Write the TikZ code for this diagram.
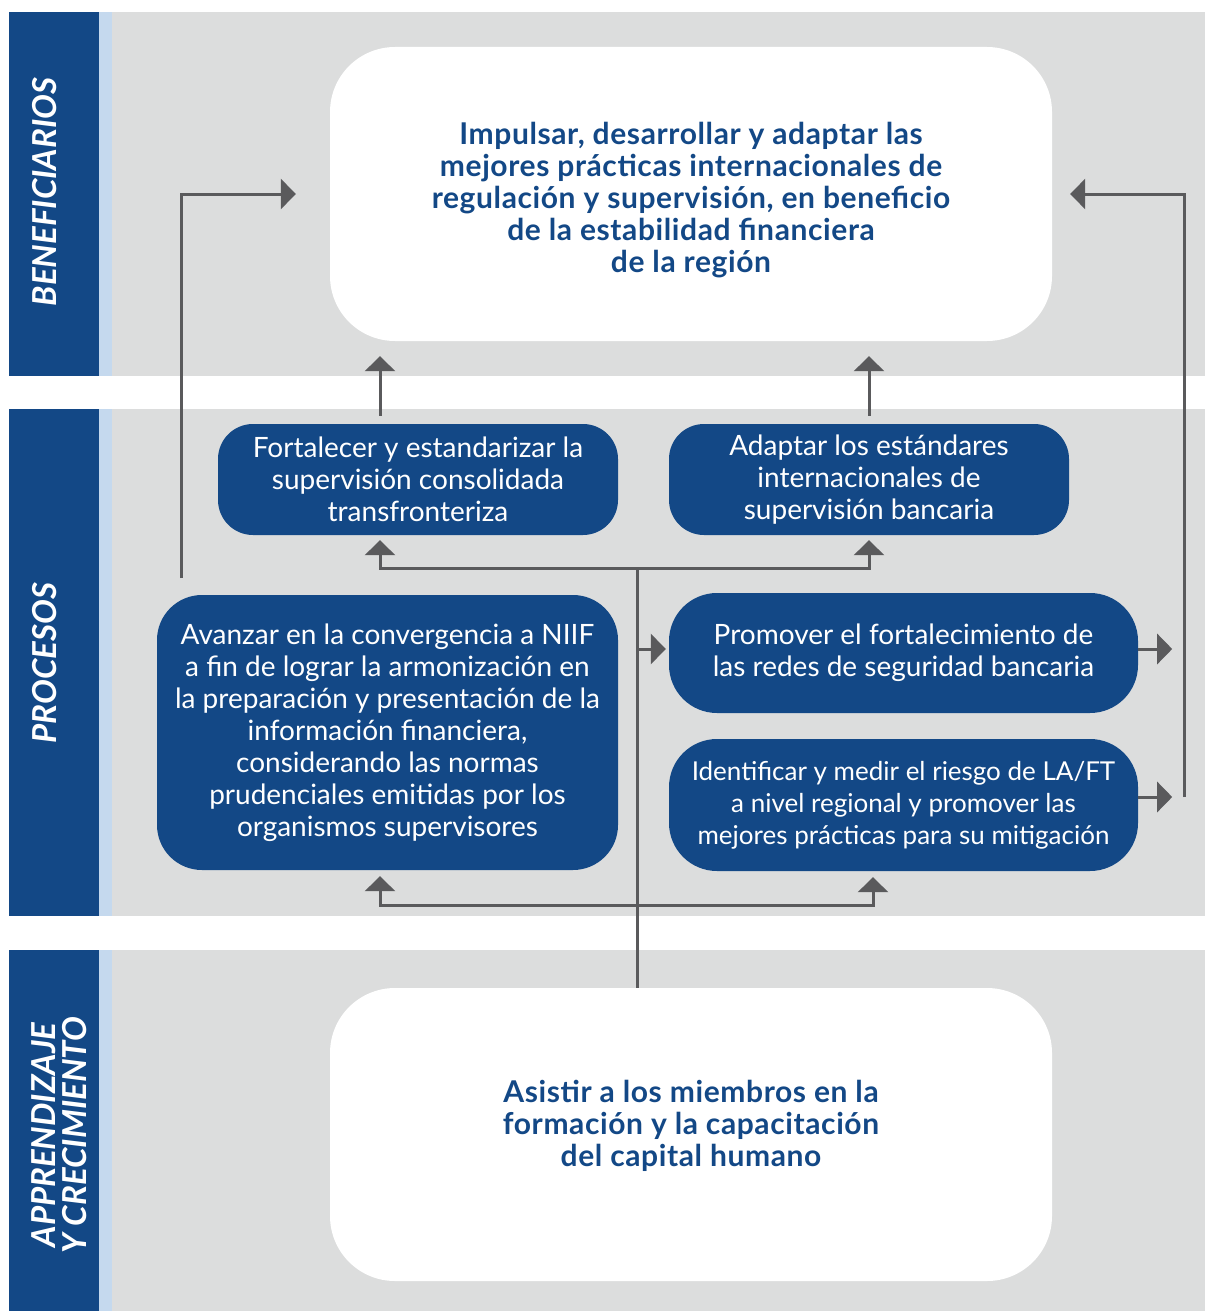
\documentclass[tikz,border=0pt]{standalone}
\usepackage{fontspec}
\setmainfont{Lato}
\usepackage{tikz}
\usetikzlibrary{arrows.meta}
\definecolor{azulosc}{HTML}{134886}
\definecolor{azulcla}{HTML}{C5D9EE}
\definecolor{grisfondo}{HTML}{DCDDDD}
\definecolor{grislinea}{HTML}{5A5A5C}

\begin{document}
\begin{tikzpicture}[x=1pt,y=-1pt,
	caja/.style={fill=azulosc,rounded corners=35pt,text=white,align=center,inner sep=0pt,font=\fontsize{28}{32}\selectfont},
	meta/.style={fill=white,rounded corners=65pt,text=azulosc,align=center,inner sep=0pt,font=\fontsize{30}{32}\selectfont\bfseries\addfontfeature{LetterSpace=2}},
	etiqueta/.style={rotate=90,text=white,align=center,font=\fontsize{33}{31}\selectfont\bfseries\itshape},
	linea/.style={draw=grislinea,line width=3pt},
	flecha/.style={linea,-{Triangle[width=30pt,length=15pt]}}]
	\useasboundingbox (0,0) rectangle (1205,1311);
	\fill[azulosc] (9,12) rectangle (99,376);
	\fill[azulcla] (99,12) rectangle (112,376);
	\fill[grisfondo] (112,12) rectangle (1205,376);
	\fill[azulosc] (9,409) rectangle (99,916);
	\fill[azulcla] (99,409) rectangle (112,916);
	\fill[grisfondo] (112,409) rectangle (1205,916);
	\fill[azulosc] (9,950) rectangle (99,1311);
	\fill[azulcla] (99,950) rectangle (112,1311);
	\fill[grisfondo] (112,950) rectangle (1205,1311);
	\node[etiqueta] (benef) at (45,192) {BENEFICIARIOS};
	\node[etiqueta] (proc) at (45,663) {PROCESOS};
	\node[etiqueta] (aprend) at (59,1135) {APPRENDIZAJE\\Y CRECIMIENTO};
	\node[meta,minimum width=722pt,minimum height=294pt,text height=162pt] (meta) at (691,194) {Impulsar, desarrollar y adaptar las\\mejores prácticas internacionales de\\regulación y supervisión, en beneficio\\de la estabilidad financiera\\de la región};
	\node[meta,minimum width=722pt,minimum height=293pt,text depth=23pt] (base) at (691,1134.5) {Asistir a los miembros en la\\formación y la capacitación\\del capital humano};
	\node[caja,minimum width=400pt,minimum height=111pt] (fort) at (418,479.5) {Fortalecer y estandarizar la\\supervisión consolidada\\transfronteriza};
	\node[caja,minimum width=400pt,minimum height=111pt] (adap) at (869,479.5) {Adaptar los estándares\\internacionales de\\supervisión bancaria};
	\node[caja,rounded corners=45pt,minimum width=461pt,minimum height=275pt] (avan) at (387.5,732.5) {Avanzar en la convergencia a NIIF\\a fin de lograr la armonización en\\la preparación y presentación de la\\información financiera,\\considerando las normas\\prudenciales emitidas por los\\organismos supervisores};
	\node[caja,rounded corners=48pt,minimum width=469pt,minimum height=120pt] (prom) at (903.5,653) {Promover el fortalecimiento de\\las redes de seguridad bancaria};
	\node[caja,rounded corners=48pt,minimum width=469pt,minimum height=132pt,font=\fontsize{26}{32}\selectfont] (iden) at (903.5,805) {Identificar y medir el riesgo de LA/FT\\a nivel regional y promover las\\mejores prácticas para su mitigación};
	\coordinate (tronco) at (637,568);
	\coordinate (pie) at (637,905);
	\coordinate (ca) at (380,568);
	\coordinate (cb) at (869,568);
	\coordinate (pa) at (380,905);
	\coordinate (pb) at (873,905);
	\coordinate (izq) at (181,578);
	\coordinate (der) at (1184,797);
	\draw[linea] (base.north -| tronco) -- (tronco);
	\draw[flecha] (tronco) -| ([yshift=-5pt]fort.south -| ca);
	\draw[flecha] (tronco) -| ([yshift=-5pt]adap.south -| cb);
	\draw[flecha] (pie) -| ([yshift=-6pt]avan.south -| pa);
	\draw[flecha] (pie) -| ([yshift=-6pt]iden.south -| pb);
	\draw[flecha] ([yshift=8pt]fort.north -| ca) -- ([yshift=-15pt]meta.south -| ca);
	\draw[flecha] ([yshift=8pt]adap.north -| cb) -- ([yshift=-15pt]meta.south -| cb);
	\draw[flecha] (izq) |- ([xshift=-34pt]meta.west);
	\draw[flecha] (der) |- ([xshift=18pt]meta.east);
	\draw[flecha] ([yshift=4pt]prom.west -| tronco) -- ([xshift=-3pt,yshift=4pt]prom.west);
	\draw[flecha] ([yshift=4pt]prom.east) -- ([xshift=34pt,yshift=4pt]prom.east);
	\draw[flecha] ([yshift=8pt]iden.east) -- ([xshift=34pt,yshift=8pt]iden.east);
\end{tikzpicture}
\end{document}
